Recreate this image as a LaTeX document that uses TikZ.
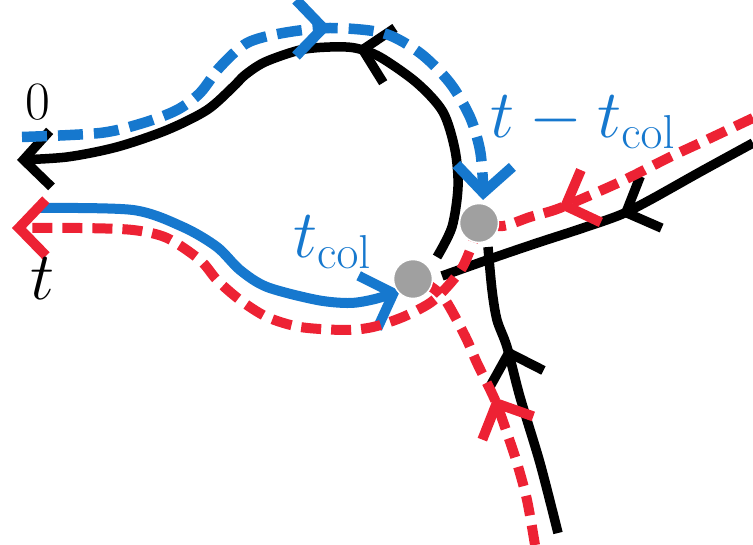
\RequirePackage{fix-cm}
\documentclass[tikz,border=0pt]{standalone}
\usetikzlibrary{arrows.meta,decorations.markings}
\definecolor{cblue}{RGB}{22,120,206}
\definecolor{cred}{RGB}{237,34,52}
\definecolor{cgray}{RGB}{160,160,160}
\tikzset{
  Barbx/.tip={Straight Barb[length=27pt,width=56pt,line cap=butt,line join=miter]},
  blk/.style={line width=9.5pt, black},
  bluedash/.style={line width=10.5pt, cblue, dash pattern=on 25pt off 11pt},
  bluesol/.style={line width=10pt, cblue},
  reddash/.style={line width=10pt, cred, dash pattern=on 20pt off 10pt},
  midarrow/.style={postaction={decorate}, decoration={markings, mark=at position #1 with {\arrow{Barbx}}}},
  dot/.style={circle, fill=cgray, draw=white, line width=1.5pt, minimum size=39pt, inner sep=0pt},
  lbl/.style={inner sep=0pt, font=\fontsize{68}{72}\selectfont}
}
\begin{document}
\begin{tikzpicture}[x=1pt,y=-1pt]
\useasboundingbox (0,0) rectangle (753,545);
\coordinate (up) at (479,223);
\coordinate (lo) at (413,279);
% black lines
\draw[blk, midarrow=0.415, -Barbx] plot[smooth] coordinates {(437,257) (452,227) (458,187) (455,150) (443,112) (417,83) (380,57) (355,48) (330,47) (300,50) (265,62) (245,75) (233,87) (207,110) (167,130) (117,147) (67,157) (17,160)};
\draw[blk, midarrow=0.446] plot[smooth] coordinates {(753,143) (700,172) (650,200) (620,215) (580,229) (537,243) (490,259) (442,276)};
\draw[blk, midarrow=0.655] plot[smooth] coordinates {(558,533) (540,463) (520,397) (507,347) (497,320) (492,290) (488,247)};
% blue
\draw[bluedash, midarrow=0.566, -Barbx] plot[smooth] coordinates {(22,137) (100,133) (143,123) (177,110) (200,93) (220,67) (247,43) (283,33) (330,28) (383,33) (420,53) (450,83) (470,117) (480,150) (483,183) (483,200)};
\draw[bluesol, -Barbx] plot[smooth] coordinates {(40,208) (133,210) (183,227) (217,247) (240,270) (267,287) (317,300) (350,303) (375,299) (400,291)};
% red
\draw[reddash, -Barbx] plot[smooth] coordinates {(up) (472,245) (462,268) (447,287) (430,303) (403,317) (373,327) (345,330) (300,327) (267,317) (240,300) (217,280) (200,260) (167,238) (133,230) (80,228) (12,228)};
\draw[reddash, midarrow=0.72] plot[smooth] coordinates {(753,118) (700,143) (670,157) (620,182) (560,208) (530,217) (503,226) (up)};
\draw[reddash, midarrow=0.51] plot[smooth] coordinates {(535,545) (527,500) (517,463) (507,433) (495,400) (477,363) (467,340) (453,313) (443,297) (430,286) (lo)};
% dots
\node[dot] (updot) at (up) {};
\node[dot] (lodot) at (lo) {};
% labels
\node[inner sep=0pt, font=\fontsize{54}{58}\selectfont] (zero) at (38,102) {$0$};
\node[lbl] (tlab) at (43,279) {$t$};
\node[lbl, anchor=base west, text=cblue] (tcol) at (293,258) {$t_{\mathrm{col}}$};
\node[lbl, anchor=base west, text=cblue] (tmt) at (490,138) {$t-t_{\mathrm{col}}$};
\end{tikzpicture}
\end{document}
